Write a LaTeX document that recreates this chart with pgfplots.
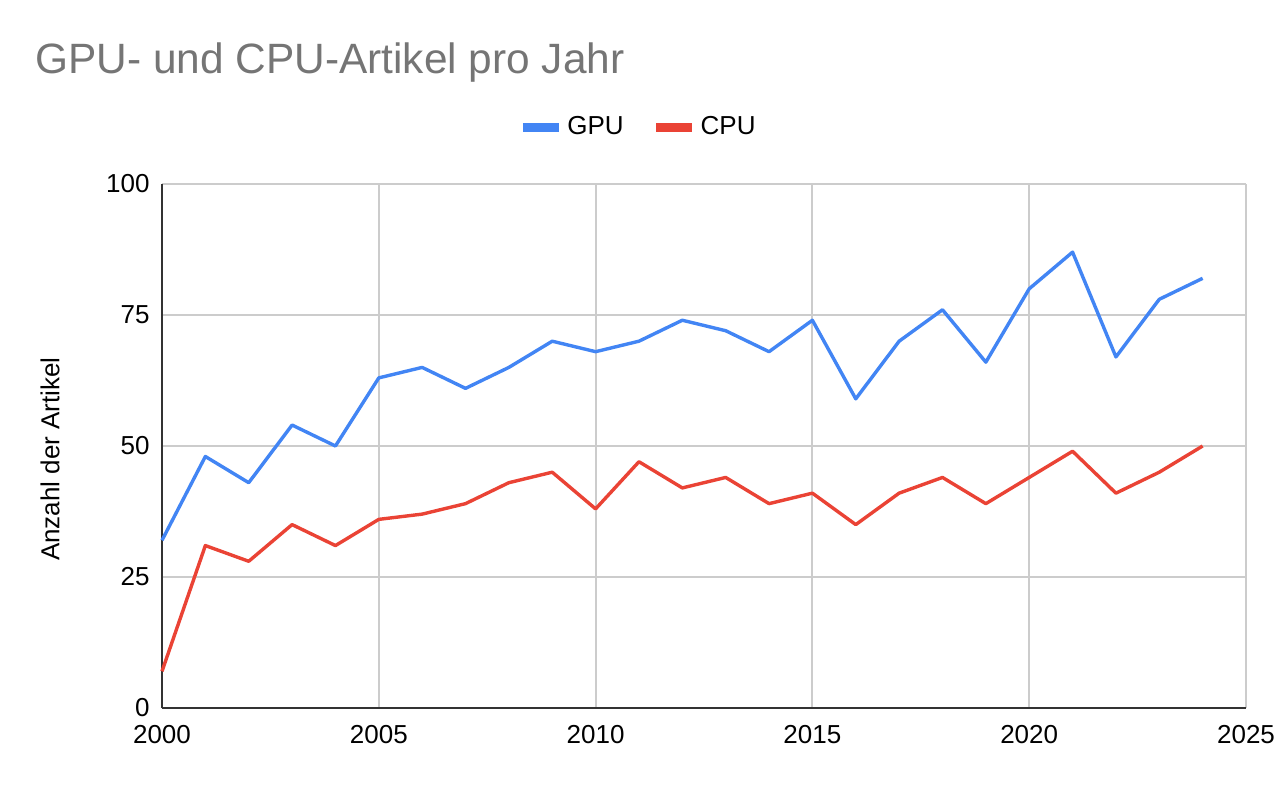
\documentclass[border=0pt]{standalone}
\usepackage{fontspec}
\setmainfont{Liberation Sans}
\usepackage{pgfplots}
\pgfplotsset{compat=1.18}
\definecolor{gpu}{HTML}{4285F4}
\definecolor{cpu}{HTML}{EA4335}
\definecolor{gridc}{HTML}{CCCCCC}
\definecolor{axisc}{HTML}{333333}
\definecolor{titlec}{HTML}{757575}
\begin{document}
\begin{tikzpicture}
\useasboundingbox (0,0) rectangle (640pt,392pt);
\node[anchor=base west, inner sep=0pt, text=titlec, font=\fontsize{21.2}{25}\selectfont] at (17.5pt,355.5pt) {GPU- und CPU-Artikel pro Jahr};
\begin{axis}[
  at={(81pt,38pt)}, anchor=south west,
  scale only axis, width=542pt, height=262pt,
  xmin=2000, xmax=2025, ymin=0, ymax=100,
  xtick={2000,2005,...,2025}, ytick={0,25,50,75,100},
  axis lines=left,
  axis line style={-, color=axisc, line width=1.2pt},
  major tick length=0pt,
  grid=major,
  major grid style={color=gridc, line width=1pt},
  /pgf/number format/assume math mode=true,
  /pgf/number format/1000 sep={},
  tick label style={font=\fontsize{13}{15}\selectfont, text=black},
  yticklabel style={xshift=-2.7pt},
  xticklabel style={yshift=-5pt},
  ylabel={Anzahl der Artikel},
  every axis y label/.style={at={(axis description cs:-0.1033,0.475)}, rotate=90, anchor=center, font=\fontsize{13}{15}\selectfont},
  legend columns=2,
  legend style={at={(axis description cs:0.44,1)}, anchor=center, yshift=28.5pt, draw=none, fill=none, font=\fontsize{13}{15}\selectfont, /tikz/every even column/.append style={column sep=12pt}},
  legend image code/.code={\draw[#1, line width=4.5pt] (0pt,0pt) -- (18pt,0pt);},
  clip=false,
]
\addplot[gpu, line width=1.7pt, line join=round] coordinates {
(2000,32) (2001,48) (2002,43) (2003,54) (2004,50) (2005,63) (2006,65) (2007,61) (2008,65) (2009,70)
(2010,68) (2011,70) (2012,74) (2013,72) (2014,68) (2015,74) (2016,59) (2017,70) (2018,76) (2019,66)
(2020,80) (2021,87) (2022,67) (2023,78) (2024,82)};
\addlegendentry{GPU}
\addplot[cpu, line width=1.7pt, line join=round] coordinates {
(2000,7) (2001,31) (2002,28) (2003,35) (2004,31) (2005,36) (2006,37) (2007,39) (2008,43) (2009,45)
(2010,38) (2011,47) (2012,42) (2013,44) (2014,39) (2015,41) (2016,35) (2017,41) (2018,44) (2019,39)
(2020,44) (2021,49) (2022,41) (2023,45) (2024,50)};
\addlegendentry{CPU}
\end{axis}
\end{tikzpicture}
\end{document}
